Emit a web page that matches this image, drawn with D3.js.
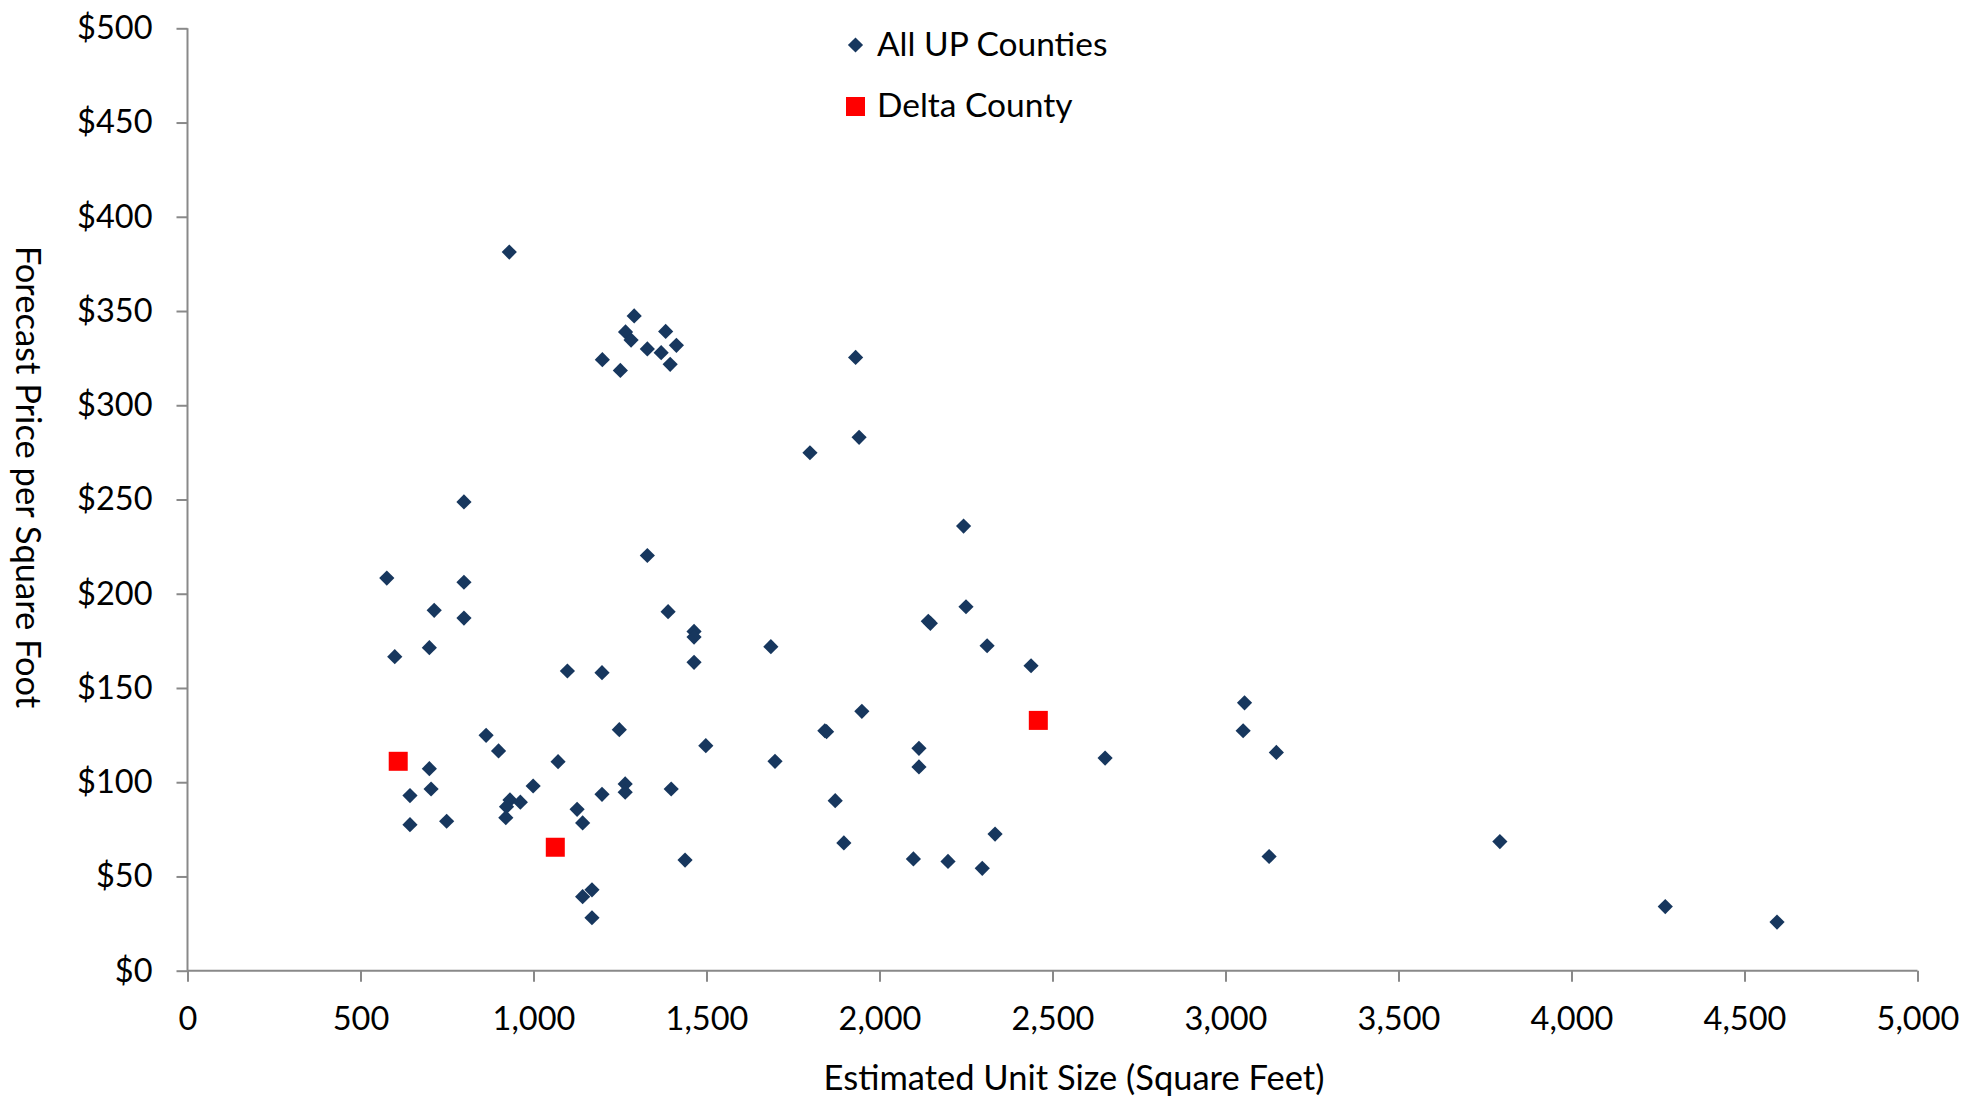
<!DOCTYPE html>
<html>
<head>
<meta charset="utf-8">
<script src="https://cdn.jsdelivr.net/npm/d3@7"></script>
<style>
  html, body { margin: 0; padding: 0; background: #ffffff; }
  svg { display: block; }
  text { font-family: Lato, "Open Sans", sans-serif; fill: #000000; }
</style>
</head>
<body>
<svg id="chart" width="1963" height="1098"></svg>
<script>
// Estimated unit size (sq ft) and forecast price per sq ft, all Upper Peninsula counties
const upSize = [930, 1291, 1266, 1282, 1382, 1413, 1329, 1369, 1199, 1395, 1251, 1931, 1941, 1799,
  799, 2243, 1329, 576, 799, 713, 799, 1389, 1464, 1464, 2141, 2147, 2250, 2311, 2438, 1686,
  699, 599, 1464, 1098, 1198, 3055, 1949, 1248, 1842, 1847, 863, 3051, 1498, 2114, 899, 3147,
  2652, 1071, 1698, 2114, 699, 1265, 999, 704, 1398, 643, 1198, 1265, 932, 962, 922, 1872,
  1126, 920, 749, 643, 1142, 2334, 1897, 3793, 3126, 2098, 1438, 2198, 2297, 1169, 1142, 1169,
  4271, 4594];
const upPrice = [381.3, 347.4, 338.9, 334.6, 339.2, 331.8, 329.9, 327.9, 324.2, 321.7, 318.5, 325.4, 283.0, 274.8,
  248.7, 235.9, 220.3, 208.3, 206.1, 191.2, 187.1, 190.5, 180.0, 177.0, 185.4, 184.3, 193.1, 172.4, 161.8, 171.9,
  171.4, 166.6, 163.6, 159.0, 158.1, 142.1, 137.6, 127.9, 127.3, 126.8, 124.9, 127.3, 119.4, 118.0, 116.6, 115.8,
  112.8, 110.9, 111.1, 108.1, 107.2, 99.1, 98.0, 96.4, 96.4, 92.9, 93.6, 94.7, 90.6, 89.4, 87.0, 90.2,
  85.6, 81.2, 79.3, 77.5, 78.4, 72.5, 67.8, 68.5, 60.6, 59.3, 58.7, 58.0, 54.3, 42.9, 39.3, 28.1,
  34.0, 25.8];

// Delta County
const deltaSize = [609, 1063, 2459];
const deltaPrice = [111.1, 65.5, 132.8];

const seriesNames = ["All UP Counties", "Delta County"];
const xTicks = [0, 500, 1000, 1500, 2000, 2500, 3000, 3500, 4000, 4500, 5000];
const yTicks = [0, 50, 100, 150, 200, 250, 300, 350, 400, 450, 500];
const xTitle = "Estimated Unit Size (Square Feet)";
const yTitle = "Forecast Price per Square Foot";

const navy = "#17375E";
const red = "#FF0000";
const axisGrey = "#898989";

const svg = d3.select("#chart");
const plot = { left: 187.5, right: 1917.5, top: 28.3, bottom: 970.7 };

const x = d3.scaleLinear().domain([0, 5000]).range([plot.left, plot.right]);
const y = d3.scaleLinear().domain([0, 500]).range([plot.bottom, plot.top]);

const up = upSize.map((s, i) => ({ s, p: upPrice[i] }));
const delta = deltaSize.map((s, i) => ({ s, p: deltaPrice[i] }));

// Axes
const yAxis = d3.axisLeft(y).tickValues(yTicks).tickSize(11).tickPadding(24)
  .tickFormat(d => "$" + d);
const xAxis = d3.axisBottom(x).tickValues(xTicks).tickSize(11).tickPadding(25)
  .tickFormat(d3.format(","));

const gy = svg.append("g").attr("transform", `translate(${plot.left},0)`).call(yAxis);
const gx = svg.append("g").attr("transform", `translate(0,${plot.bottom})`).call(xAxis);

[gx, gy].forEach(g => {
  g.select(".domain").attr("stroke", axisGrey).attr("stroke-width", 2);
  g.selectAll(".tick line").attr("stroke", axisGrey).attr("stroke-width", 2);
  g.selectAll(".tick text").attr("font-family", "Lato, sans-serif").attr("font-size", 32.5).attr("fill", "#000");
});
// outer tick ends are drawn by tick lines
gy.select(".domain").attr("d", `M0,${plot.bottom}V${plot.top}`);
gx.select(".domain").attr("d", `M${plot.left},0H${plot.right}`);

// Axis titles
svg.append("text")
  .attr("x", 1074).attr("y", 1090)
  .attr("text-anchor", "middle")
  .attr("font-size", 34.5)
  .text(xTitle);

svg.append("text")
  .attr("transform", `translate(16,477) rotate(90)`)
  .attr("text-anchor", "middle")
  .attr("font-size", 34.5)
  .text(yTitle);

// Markers
const diamond = (r) => `M0,${-r}L${r},0L0,${r}L${-r},0Z`;
const dR = 7.6;
const sq = 19;

svg.append("g").selectAll("path").data(up).join("path")
  .attr("d", diamond(dR))
  .attr("transform", d => `translate(${x(d.s)},${y(d.p)})`)
  .attr("fill", navy);

svg.append("g").selectAll("rect").data(delta).join("rect")
  .attr("x", d => x(d.s) - sq / 2)
  .attr("y", d => y(d.p) - sq / 2)
  .attr("width", sq).attr("height", sq)
  .attr("fill", red);

// Legend
const legend = svg.append("g").attr("transform", "translate(855.5,0)");
legend.append("path").attr("d", diamond(dR)).attr("transform", "translate(0,45)").attr("fill", navy);
legend.append("text").attr("x", 21.5).attr("y", 56).attr("font-size", 33.5).text(seriesNames[0]);
legend.append("rect").attr("x", -sq / 2).attr("y", 106.5 - sq / 2).attr("width", sq).attr("height", sq).attr("fill", red);
legend.append("text").attr("x", 21.5).attr("y", 117).attr("font-size", 33.5).text(seriesNames[1]);
</script>
</body>
</html>
